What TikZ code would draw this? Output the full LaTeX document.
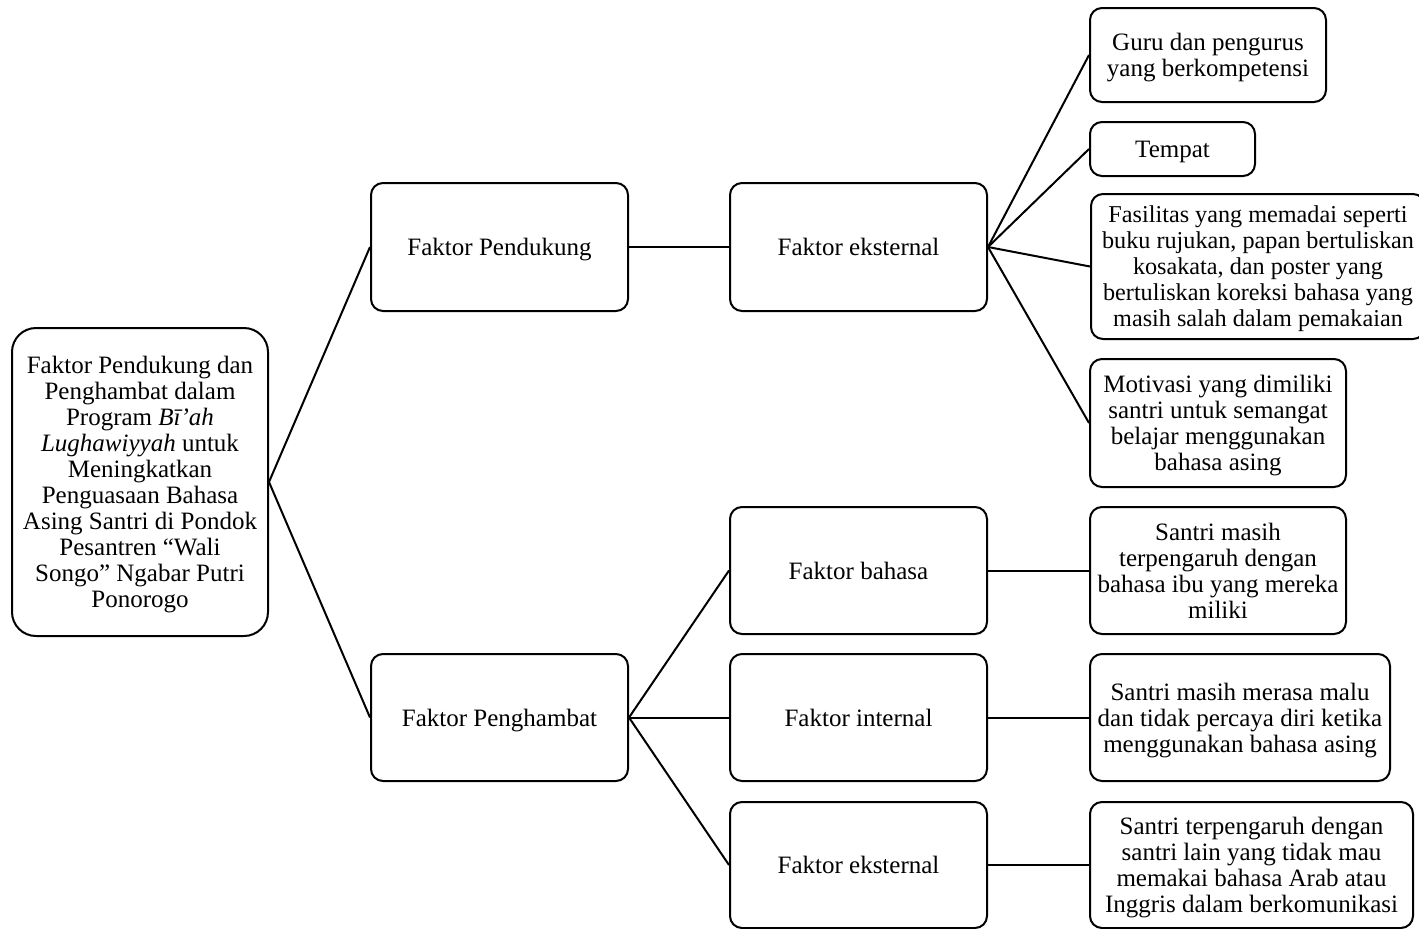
\documentclass[tikz,border=0pt]{standalone}
\usepackage{fontspec}
\setmainfont{Liberation Serif}
\begin{document}
\begin{tikzpicture}[x=1pt,y=1pt,
  box/.style={draw, line width=2pt, rounded corners=12pt, align=center,
    inner sep=0pt, text depth=0pt, font=\fontsize{25}{26}\selectfont},
  link/.style={line width=2pt}]
\useasboundingbox (0,0) rectangle (1419,-929);
\clip (0,0) rectangle (1419,-929);

% root
\node[box, rounded corners=24pt, minimum width=256pt, minimum height=308pt] (root) at (140,-482)
  {Faktor Pendukung dan\\Penghambat dalam\\Program \textit{Bī’ah}\\\textit{Lughawiyyah} untuk\\Meningkatkan\\Penguasaan Bahasa\\Asing Santri di Pondok\\Pesantren “Wali\\Songo” Ngabar Putri\\Ponorogo};

% second level
\node[box, minimum width=257pt, minimum height=128pt] (pend) at (499.5,-247) {Faktor Pendukung};
\node[box, minimum width=257pt, minimum height=127pt] (peng) at (499.5,-717.5) {Faktor Penghambat};

% third level
\node[box, minimum width=257pt, minimum height=128pt] (ext1) at (858.5,-247) {Faktor eksternal};
\node[box, minimum width=257pt, minimum height=127pt] (bah) at (858.5,-570.5) {Faktor bahasa};
\node[box, minimum width=257pt, minimum height=127pt] (int) at (858.5,-717.5) {Faktor internal};
\node[box, minimum width=257pt, minimum height=126pt] (ext2) at (858.5,-865) {Faktor eksternal};

% leaves
\node[box, minimum width=236pt, minimum height=94pt] (guru) at (1208,-55) {Guru dan pengurus\\yang berkompetensi};
\node[box, minimum width=165pt, minimum height=54pt] (tempat) at (1172.5,-149) {Tempat};
\node[box, anchor=west, minimum width=334pt, minimum height=145pt,
      font=\fontsize{24.2}{26}\selectfont] (fas) at (1090,-266.5)
  {Fasilitas yang memadai seperti\\buku rujukan, papan bertuliskan\\kosakata, dan poster yang\\bertuliskan koreksi bahasa yang\\masih salah dalam pemakaian};
\node[box, minimum width=256pt, minimum height=128pt] (mot) at (1218,-423)
  {Motivasi yang dimiliki\\santri untuk semangat\\belajar menggunakan\\bahasa asing};
\node[box, minimum width=256pt, minimum height=127pt] (s1) at (1218,-570.5)
  {Santri masih\\terpengaruh dengan\\bahasa ibu yang mereka\\miliki};
\node[box, minimum width=300pt, minimum height=127pt] (s2) at (1240,-717.5)
  {Santri masih merasa malu\\dan tidak percaya diri ketika\\menggunakan bahasa asing};
\node[box, minimum width=323pt, minimum height=126pt] (s3) at (1251.5,-865)
  {Santri terpengaruh dengan\\santri lain yang tidak mau\\memakai bahasa Arab atau\\Inggris dalam berkomunikasi};

% connectors
\draw[link] (root.east) -- (pend.west);
\draw[link] (root.east) -- (peng.west);
\draw[link] (pend.east) -- (ext1.west);
\draw[link] (ext1.east) -- (guru.west);
\draw[link] (ext1.east) -- (tempat.west);
\draw[link] (ext1.east) -- (fas.west);
\draw[link] (ext1.east) -- (mot.west);
\draw[link] (peng.east) -- (bah.west);
\draw[link] (peng.east) -- (int.west);
\draw[link] (peng.east) -- (ext2.west);
\draw[link] (bah.east) -- (s1.west);
\draw[link] (int.east) -- (s2.west);
\draw[link] (ext2.east) -- (s3.west);
\end{tikzpicture}
\end{document}
